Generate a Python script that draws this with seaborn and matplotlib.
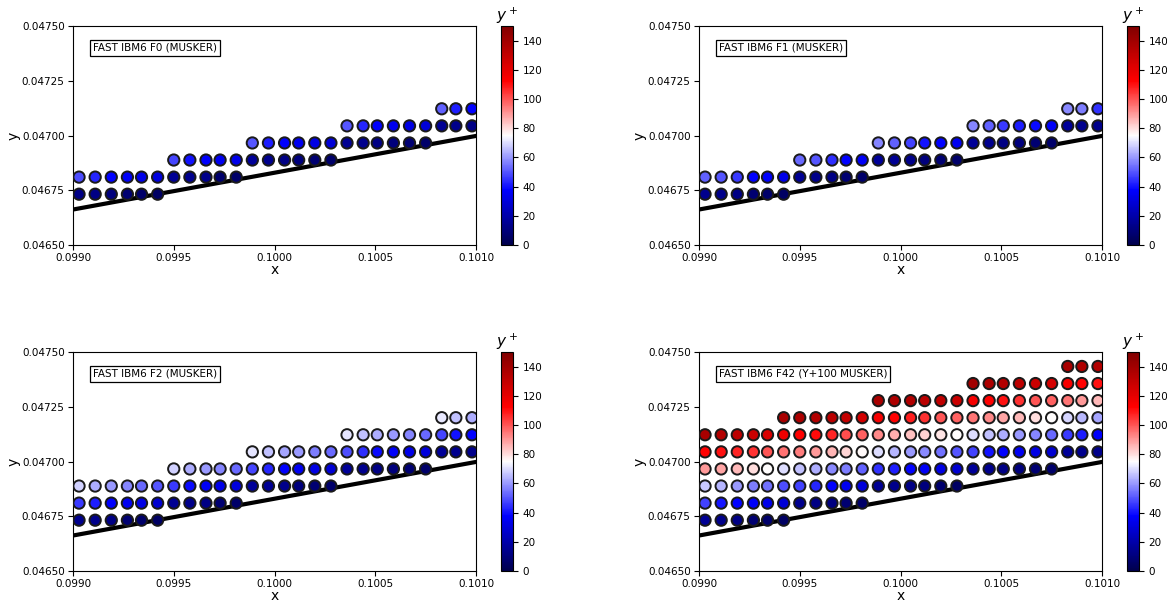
import numpy as np
import pandas as pd
import matplotlib
matplotlib.use("Agg")
import matplotlib.pyplot as plt
import seaborn as sns
from matplotlib.ticker import FormatStrFormatter

nan = np.nan

# grid nodes (x of each column, y of each row)
x_nodes = [0.09903, 0.09911, 0.09919, 0.09927, 0.09934, 0.09942,
           0.09950, 0.09958, 0.09966, 0.09973, 0.09981,
           0.09989, 0.09997, 0.10005, 0.10012, 0.10020, 0.10028,
           0.10036, 0.10044, 0.10051, 0.10059, 0.10067, 0.10075,
           0.10083, 0.10090, 0.10098]
y_rows = [0.046732, 0.046810, 0.046888, 0.046966, 0.047044,
          0.047122, 0.047200, 0.047278, 0.047356, 0.047434]
# first row index above the wall for each column
first_row = [0, 0, 0, 0, 0, 0,
             1, 1, 1, 1, 1,
             2, 2, 2, 2, 2, 2,
             3, 3, 3, 3, 3, 3,
             4, 4, 4]

# wall line
wall_x = [0.0990, 0.1010]
wall_y = [0.046662, 0.046998]

# y+ values, one list per layer off the wall
f0_layers = [
    [12, 12, 10, 8, 6, 5, 15, 14, 13, 7, 6, 16, 14, 12, 10, 8, 6, 15, 14, 12, 10, 8, 6, 15, 13, 12],
    [49, 43, 38, 36, 33, 31, 48, 40, 37, 35, 33, 50, 42, 37, 34, 32, 29, 50, 43, 37, 34, 32, 29, 52, 42, 38],
]
f1_layers = [
    [14, 13, 12, 8, 6, 5, 15, 13, 12, 8, 6, 16, 15, 13, 10, 8, 6, 16, 14, 12, 10, 8, 6, 16, 14, 13],
    [52, 50, 46, 38, 37, 33, 53, 50, 44, 38, 36, 57, 52, 47, 40, 38, 35, 57, 52, 46, 42, 39, 36, 58, 56, 45],
]
f2_layers = [
    [14, 13, 12, 8, 6, 5, 15, 13, 12, 8, 6, 16, 15, 13, 10, 8, 6, 16, 14, 12, 10, 8, 6, 16, 14, 13],
    [46, 42, 37, 35, 32, 28, 46, 39, 36, 33, 30, 48, 43, 38, 35, 32, 29, 49, 44, 39, 36, 33, 30, 48, 40, 38],
    [68, 63, 60, 57, 53, 50, 68, 63, 60, 57, 53, 71, 66, 62, 60, 56, 53, 71, 66, 63, 60, 57, 53, 72, 66, 63],
]
f42_layers = [
    [15, 13, 12, 8, 6, 5, 14, 12, 11, 8, 6, 15, 13, 12, 10, 7, 5, 16, 14, 12, 10, 8, 6, 16, 14, 13],
    [47, 41, 38, 36, 33, 29, 47, 43, 38, 34, 30, 45, 42, 38, 36, 32, 28, 47, 40, 37, 35, 32, 28, 46, 42, 37],
    [67, 64, 60, 56, 54, 49, 66, 63, 58, 56, 52, 70, 64, 60, 58, 54, 50, 70, 66, 63, 60, 57, 53, 69, 65, 62],
    [90, 88, 85, 80, 75, 70, 94, 90, 86, 81, 76, 92, 87, 84, 82, 79, 75, 95, 92, 88, 85, 80, 75, 95, 90, 85],
    [112, 110, 107, 105, 100, 96, 113, 111, 107, 101, 98, 115, 112, 108, 105, 100, 98, 115, 112, 110, 105, 100, 98, 115, 112, 110],
    [138, 135, 132, 128, 124, 117, 137, 135, 133, 130, 125, 138, 136, 135, 133, 131, 128, 140, 137, 135, 132, 128, 125, 138, 136, 135],
    [nan, nan, nan, nan, nan, 138, nan, nan, nan, nan, nan, nan, nan, nan, nan, nan, nan,
     nan, nan, nan, nan, nan, nan, nan, nan, nan],
]

titles = ["FAST IBM6 F0 (MUSKER)", "FAST IBM6 F1 (MUSKER)",
          "FAST IBM6 F2 (MUSKER)", "FAST IBM6 F42 (Y+100 MUSKER)"]
all_layers = [f0_layers, f1_layers, f2_layers, f42_layers]


def to_frame(layers):
    rows = []
    for k, vals in enumerate(layers):
        for c, v in enumerate(vals):
            if np.isnan(v):
                continue
            rows.append({"x": x_nodes[c], "y": y_rows[first_row[c] + k], "yplus": v})
    return pd.DataFrame(rows)


W, H = 1167, 605
fig = plt.figure(figsize=(W / 100, H / 100), dpi=100)

ax_left = [73, 699]
cb_left = [501, 1127]
ax_top = [26, 352]
ax_w, ax_h = 403, 219
cb_w = 12

norm = plt.Normalize(0, 150)
cmap = plt.get_cmap("seismic")

for i, (layers, title) in enumerate(zip(all_layers, titles)):
    r, c = divmod(i, 2)
    ax = fig.add_axes([ax_left[c] / W, 1 - (ax_top[r] + ax_h) / H, ax_w / W, ax_h / H])
    cax = fig.add_axes([cb_left[c] / W, 1 - (ax_top[r] + ax_h) / H, cb_w / W, ax_h / H])

    df = to_frame(layers)
    ax.plot(wall_x, wall_y, color="black", lw=3, zorder=2)
    sns.scatterplot(data=df, x="x", y="y", hue="yplus", palette="seismic",
                    hue_norm=(0, 150), s=66, edgecolor="#1a1a1a", linewidth=1.4,
                    legend=False, ax=ax, zorder=3)

    ax.set_xlim(0.0990, 0.1010)
    ax.set_ylim(0.0465, 0.0475)
    ax.set_xticks([0.0990, 0.0995, 0.1000, 0.1005, 0.1010])
    ax.set_yticks([0.04650, 0.04675, 0.04700, 0.04725, 0.04750])
    ax.xaxis.set_major_formatter(FormatStrFormatter("%.4f"))
    ax.yaxis.set_major_formatter(FormatStrFormatter("%.5f"))
    ax.tick_params(labelsize=7.5, pad=2.5)
    ax.set_xlabel("x", fontsize=10, labelpad=0)
    ax.set_ylabel("y", fontsize=10, labelpad=1)
    ax.text(0.05, 0.9, title, transform=ax.transAxes, fontsize=7.5,
            va="center", ha="left",
            bbox=dict(facecolor="white", edgecolor="black", pad=2, linewidth=0.9))

    sm = plt.cm.ScalarMappable(norm=norm, cmap=cmap)
    cb = fig.colorbar(sm, cax=cax)
    cb.set_ticks([0, 20, 40, 60, 80, 100, 120, 140])
    cb.ax.tick_params(labelsize=7.5)
    cb.ax.set_title("$y^+$", fontsize=11, pad=3)

fig.savefig("out.png", dpi=100)
